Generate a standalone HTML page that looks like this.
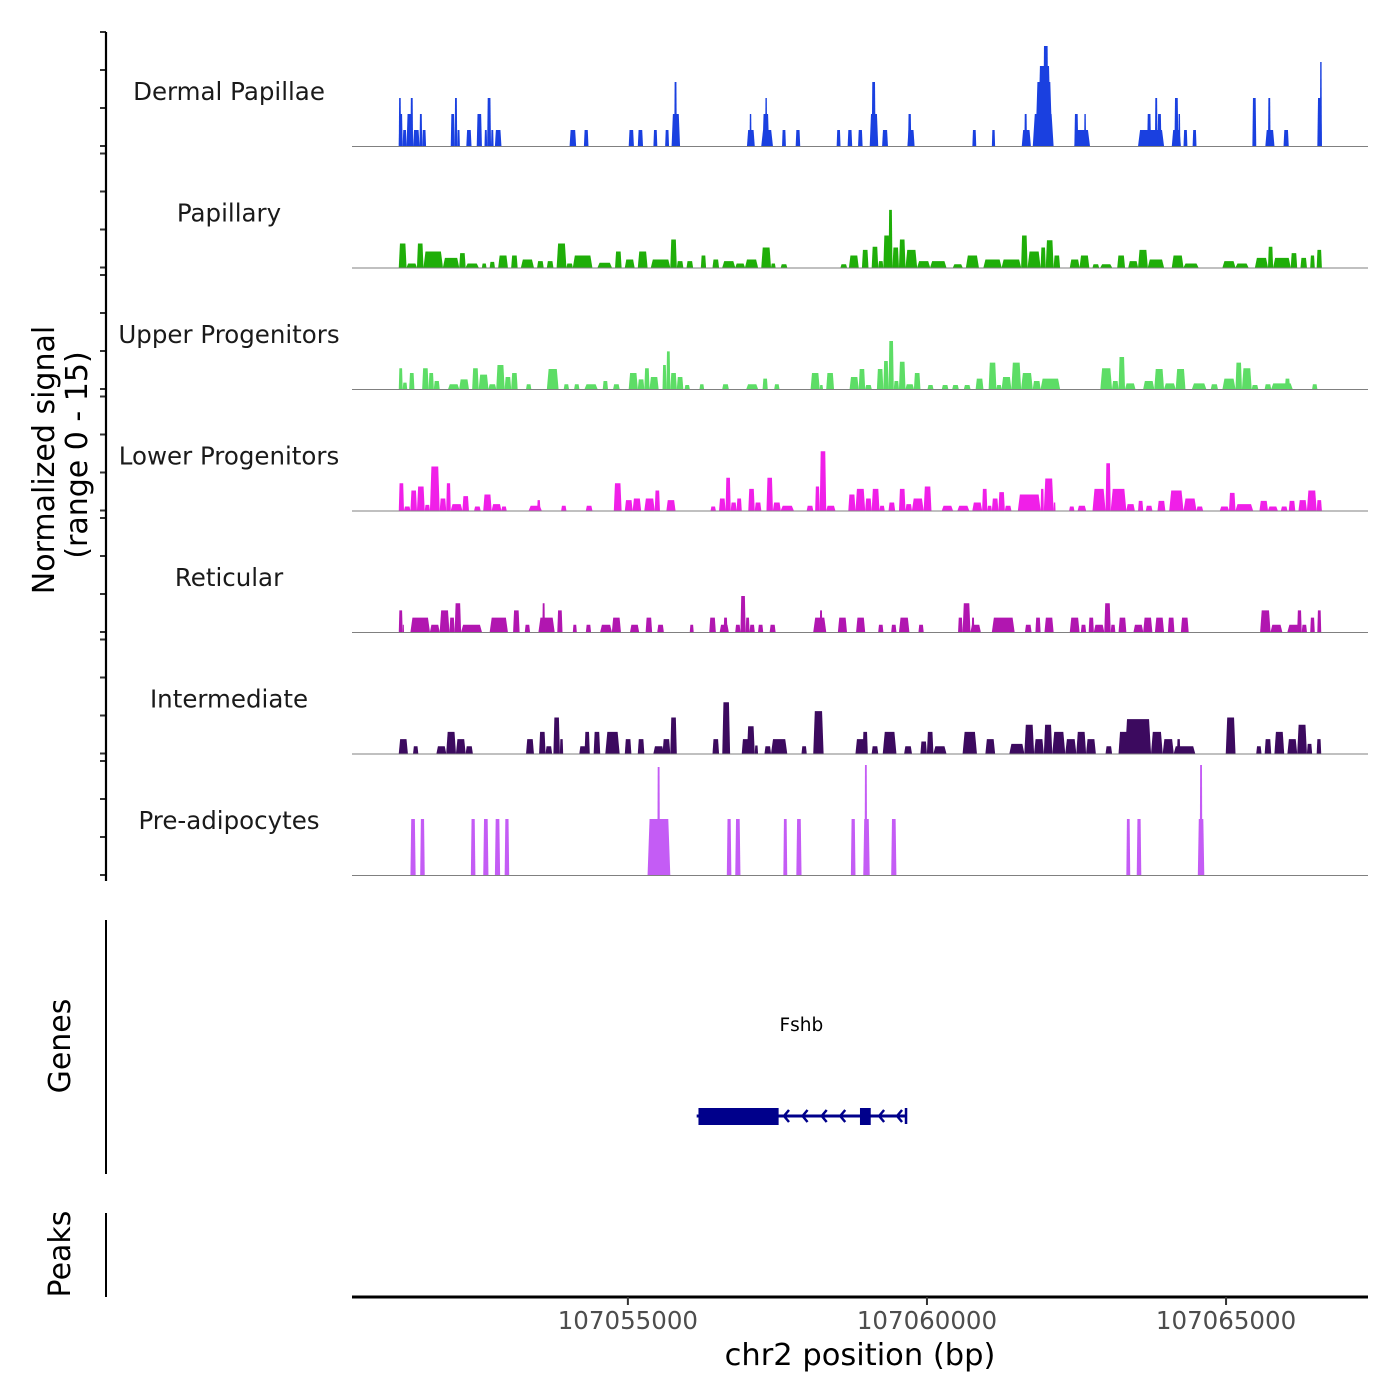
<!DOCTYPE html>
<html>
<head>
<meta charset="utf-8">
<style>
html,body{margin:0;padding:0;background:#fff;}
svg{display:block;font-family:"DejaVu Sans","Liberation Sans",sans-serif;}
</style>
</head>
<body>
<svg id="chart" width="1400" height="1400" viewBox="0 0 1400 1400" xmlns="http://www.w3.org/2000/svg">
<g id="tracks"></g>
<g id="axes"></g>
<g id="genes"></g>
</svg>
<script>
// region (genomic coordinates, bp); signal segments are [startOffsetBp, endOffsetBp, value]
const regionStart = 107050388;
const regionEnd = 107067373;
const xTicks = [107055000, 107060000, 107065000];
const xTickLabels = ["107055000", "107060000", "107065000"];
const trackNames = ["Dermal Papillae","Papillary","Upper Progenitors","Lower Progenitors","Reticular","Intermediate","Pre-adipocytes"];
const trackColors = ["#1a40e0","#1fae09","#5ddd66","#f01fe8","#b116b0","#3c0a5f","#c45cf5"];
const yTickValues = [0,5,10,15];

const dermalPapillae = [[782,847,4],[782,820,6],[847,912,2],[912,1021,4],[977,1021,6],[1021,1129,2],[1129,1173,4],[1173,1238,2],[1651,1716,4],[1716,1759,6],[1759,1803,2],[1911,1998,2],[2085,2172,4],[2215,2259,2],[2259,2324,6],[2324,2367,2],[2389,2498,2],[3638,3747,2],[3877,3953,2],[4626,4713,2],[4778,4865,2],[5039,5104,2],[5235,5300,2],[5343,5484,4],[5387,5430,8],[6603,6733,2],[6646,6679,4],[6842,7037,2],[6864,6972,4],[6907,6940,6],[7189,7254,2],[7417,7493,2],[8102,8167,2],[8286,8362,2],[8460,8536,2],[8655,8797,4],[8688,8753,8],[8862,8960,2],[9285,9405,2],[9296,9350,4],[10371,10436,2],[10697,10751,2],[11197,11349,2],[11240,11284,4],[11381,11729,4],[11425,11707,8],[11468,11685,10],[11555,11642,12.5],[12076,12337,2],[12076,12141,4],[12239,12272,4],[13141,13575,2],[13293,13358,4],[13423,13466,6],[13466,13532,4],[13705,13857,2],[13749,13814,6],[13814,13847,4],[13901,13966,2],[14053,14118,2],[15052,15117,6],[15269,15421,2],[15313,15356,6],[15573,15660,2],[16138,16214,6],[16181,16214,10.5]];
const papillary = [[782,912,3],[912,1086,0.5],[1086,1195,3],[1195,1520,2],[1520,1792,1.2],[1792,1900,1.8],[1900,2118,0.5],[2172,2248,0.5],[2302,2389,0.7],[2444,2606,1.5],[2661,2769,1.5],[2824,3041,1],[3095,3204,0.8],[3258,3367,0.8],[3421,3584,3],[3584,3692,0.5],[3692,4018,1.5],[4105,4344,0.6],[4398,4507,2],[4561,4724,1],[4778,4941,2],[4996,5321,1],[5321,5430,3.5],[5430,5539,0.8],[5593,5702,0.8],[5832,5919,1.5],[6027,6136,1],[6190,6407,0.8],[6407,6570,0.5],[6570,6788,1],[6842,7005,2.5],[7005,7081,0.5],[7168,7276,0.4],[8167,8275,0.4],[8308,8471,1.5],[8525,8634,2.2],[8688,8797,2.6],[8797,8883,0.8],[8883,8992,4],[8970,9035,7.2],[9035,9144,2.5],[9144,9253,3.5],[9253,9448,2.2],[9448,9665,0.8],[9665,9937,0.8],[10046,10208,0.4],[10263,10480,1.5],[10556,10860,1],[10860,11186,1],[11186,11294,4],[11294,11512,2],[11512,11598,2.5],[11598,11729,3.4],[11729,11837,1.5],[12000,12163,1],[12163,12326,1.5],[12380,12489,0.4],[12511,12706,0.4],[12793,12923,1.5],[12978,13141,0.8],[13141,13304,2.2],[13304,13575,1],[13705,13901,1.5],[13901,14151,0.5],[14552,14770,0.8],[14770,14987,0.5],[15095,15313,1.2],[15313,15399,2.6],[15399,15693,1.2],[15693,15801,1.8],[15856,15964,1.2],[16019,16095,1.5],[16127,16214,2.2]];
const upperProgenitors = [[782,847,2.6],[847,923,0.8],[956,1043,2],[1173,1281,2.6],[1281,1368,2],[1368,1466,1],[1607,1792,0.6],[1792,1955,1.2],[2009,2118,2.6],[2118,2281,1.8],[2281,2411,0.6],[2411,2552,3],[2552,2661,1.5],[2661,2769,2],[2910,2997,0.6],[3258,3453,2.5],[3540,3627,0.6],[3714,3801,0.6],[3888,4105,0.6],[4192,4279,1],[4366,4474,0.6],[4626,4778,2],[4778,4887,1.2],[4887,4974,2.6],[4974,5126,1.5],[5191,5256,3],[5256,5321,4.7],[5321,5430,2],[5430,5539,1.5],[5560,5647,0.5],[5810,5886,0.6],[6190,6299,0.6],[6592,6788,0.6],[6864,6950,1.3],[7059,7146,0.6],[7667,7819,2],[7819,7874,0.5],[7928,8058,2],[8319,8471,1.5],[8471,8579,2.5],[8579,8688,0.5],[8775,8883,2.5],[8883,8970,3.5],[8970,9057,6],[9057,9144,1],[9144,9253,3.4],[9253,9394,0.6],[9394,9503,2],[9622,9720,0.5],[9861,9969,0.5],[10035,10143,0.5],[10230,10339,0.5],[10426,10556,1.3],[10643,10773,3.3],[10773,10860,0.5],[10860,11023,1.5],[11023,11186,3.3],[11186,11381,2],[11381,11512,1],[11512,11837,1.3],[12511,12706,2.6],[12706,12815,1],[12815,12923,4],[12923,13097,0.7],[13227,13412,1],[13412,13575,2.5],[13575,13770,0.7],[13770,13933,2.5],[14042,14281,0.7],[14357,14476,0.6],[14552,14770,1.3],[14770,14878,3.3],[14878,15041,2.6],[15041,15150,0.5],[15258,15367,0.6],[15367,15725,0.7],[15595,15682,1.3],[16051,16138,0.6]];
const lowerProgenitors = [[782,869,3.4],[869,977,0.5],[977,1086,2.5],[1086,1216,3],[1216,1303,0.7],[1303,1466,5.5],[1466,1575,1.5],[1575,1651,3.4],[1651,1846,0.8],[1846,1955,1.8],[2042,2150,0.5],[2194,2335,2],[2335,2498,0.8],[2498,2585,0.5],[2954,3171,0.6],[3095,3149,1.3],[3497,3584,0.6],[3910,4018,0.6],[4377,4507,3.4],[4561,4692,1.3],[4692,4833,1.5],[4887,5061,1.5],[5061,5148,2.5],[5256,5408,1.3],[5995,6082,0.5],[6136,6245,1.5],[6245,6331,4.1],[6331,6429,1],[6429,6516,1.5],[6625,6733,2.7],[6733,6842,1],[6929,7037,4.1],[7037,7168,1],[7168,7385,0.6],[7602,7711,0.6],[7743,7819,3],[7819,7928,7.4],[7928,8080,0.6],[8297,8417,2],[8417,8579,2.7],[8579,8688,1.5],[8688,8818,2.7],[8818,8905,0.6],[8970,9079,1],[9144,9253,2.7],[9253,9361,0.8],[9361,9557,1.5],[9557,9687,3],[9861,10046,0.6],[10122,10317,0.6],[10371,10534,1],[10534,10621,2.7],[10621,10697,0.6],[10697,10806,1.5],[10806,10914,2.3],[10914,11023,0.6],[11132,11512,2],[11512,11566,2.7],[11566,11729,4],[11729,11761,1],[11989,12076,0.5],[12131,12272,0.6],[12380,12598,2.7],[12598,12684,5.9],[12684,12945,2.7],[12945,13086,0.8],[13141,13227,1.2],[13271,13380,0.6],[13466,13597,1.2],[13662,13901,2.5],[13901,14118,1.5],[14118,14227,0.5],[14509,14661,0.5],[14661,14770,2.2],[14770,15063,0.8],[15171,15313,1.2],[15313,15476,0.5],[15530,15638,0.5],[15660,15769,1.2],[15823,15964,1.3],[15964,16127,2.5],[16127,16214,1.3]];
const reticular = [[782,847,2.7],[847,869,0.9],[977,1303,1.8],[1303,1466,0.9],[1466,1629,2.7],[1629,1716,1.8],[1716,1824,3.6],[1824,2172,0.9],[2302,2606,1.8],[2693,2802,2.7],[2889,2976,0.9],[3117,3388,1.8],[3182,3225,3.6],[3432,3519,2.7],[3692,3758,0.9],[3910,3996,0.9],[4149,4344,0.9],[4344,4496,1.8],[4648,4800,0.9],[4909,5017,1.8],[5104,5213,0.9],[5647,5712,0.9],[5973,6082,1.8],[6147,6299,0.9],[6212,6277,1.8],[6407,6494,0.9],[6494,6581,4.5],[6581,6646,1.8],[6646,6733,0.9],[6788,6874,0.9],[6983,7081,0.9],[7711,7928,1.8],[7819,7863,2.7],[8123,8275,1.8],[8427,8579,1.8],[8797,8883,0.9],[9014,9101,0.9],[9144,9318,1.8],[9470,9557,0.9],[10132,10208,1.8],[10208,10339,3.6],[10339,10512,0.9],[10360,10404,1.8],[10697,11077,1.8],[11251,11360,0.9],[11425,11512,1.8],[11577,11729,1.8],[12000,12163,1.8],[12185,12272,0.9],[12315,12402,1.8],[12402,12576,0.9],[12576,12684,3.6],[12684,12761,0.9],[12815,12945,1.8],[13065,13227,0.9],[13227,13380,1.8],[13423,13575,1.8],[13640,13749,1.8],[13857,13987,1.8],[15182,15356,2.7],[15356,15552,0.9],[15638,15856,0.9],[15801,15877,2.7],[15877,15964,0.9],[16019,16095,1.8],[16138,16203,2.7]];
const intermediate = [[782,934,1.8],[1021,1108,0.9],[1412,1575,0.9],[1575,1738,2.7],[1738,1900,1.8],[1900,2020,0.9],[2910,3041,1.8],[3128,3236,2.7],[3236,3345,0.9],[3367,3475,4.5],[3475,3530,1.8],[3801,3910,0.9],[3888,3975,2.7],[4040,4149,2.7],[4235,4474,2.7],[4561,4670,1.8],[4778,4887,1.8],[5039,5213,0.9],[5191,5321,1.8],[5321,5430,4.5],[6027,6136,1.8],[6190,6321,6.4],[6516,6646,1.8],[6603,6733,3.4],[6733,6788,1],[6896,7005,0.9],[7005,7276,1.8],[7515,7602,0.9],[7711,7884,5.3],[8417,8579,1.8],[8536,8623,2.7],[8688,8797,0.9],[8873,9101,2.7],[9231,9361,0.9],[9503,9611,1.5],[9611,9720,2.7],[9720,9937,0.9],[10208,10447,2.7],[10589,10751,1.8],[10990,11240,1.2],[11240,11403,3.6],[11403,11566,1.8],[11566,11707,3.6],[11707,11924,2.7],[11924,12109,1.8],[12109,12272,2.7],[12272,12435,1.8],[12598,12706,0.9],[12815,12978,2.7],[12923,13358,4.3],[13358,13553,2.7],[13553,13738,1.8],[13738,14096,0.9],[13792,13847,1.8],[14607,14770,4.5],[15117,15204,0.9],[15258,15367,1.8],[15421,15584,2.7],[15638,15801,1.8],[15801,15964,3.6],[15964,16051,1.2],[16127,16203,1.8]];
const preAdipocytes = [[977,1064,7],[1140,1216,7],[1987,2063,7],[2194,2281,7],[2389,2476,7],[2552,2628,7],[4941,5321,7],[5104,5148,13.5],[6266,6342,7],[6407,6494,7],[7211,7276,7],[7428,7515,7],[8340,8417,7],[8547,8655,7],[8569,8612,13.75],[9014,9101,7],[12945,13010,7],[13119,13195,7],[14140,14248,7],[14172,14216,13.75]];
const trackData = [dermalPapillae, papillary, upperProgenitors, lowerProgenitors, reticular, intermediate, preAdipocytes];

// gene model (genomic coordinates)
const geneName = "Fshb";
const geneStart = 107056150;
const geneEnd = 107059650;
const exons = [[107056180,107057520],[107058880,107059060]];
const strandArrows = [107057610,107057920,107058240,107058550,107059200,107059500];

const NS = "http://www.w3.org/2000/svg";
const X0 = 352, X1 = 1368;
function xScale(bp){ return X0 + (bp - regionStart) / (regionEnd - regionStart) * (X1 - X0); }
const firstBase = 146, trackStep = 121.5, unitPx = 8, tickUnitPx = 7.6;
function yScale(v, base){ return base - v * unitPx; }
function mk(tag, attrs, parent){ const e = document.createElementNS(NS, tag); for (const k in attrs) e.setAttribute(k, attrs[k]); parent.appendChild(e); return e; }

const tracks = document.getElementById('tracks');
const axes = document.getElementById('axes');
const genes = document.getElementById('genes');

trackData.forEach((segs, ti) => {
  const base = firstBase + ti * trackStep;
  const g = mk('g', {}, tracks);
  
  
  const lbl = mk('text', {x:229, y:base-46, 'text-anchor':'middle', 'font-size':24.5, fill:'#1a1a1a'}, g);
  lbl.textContent = trackNames[ti];
  
  
  segs.forEach(s => {
    const xa = xScale(regionStart + s[0]), xb = xScale(regionStart + s[1]);
    const w = xb - xa, d = Math.min(w * 0.15, 2);
    const yt = yScale(s[2], base);
    const p = mk('polygon', {points: `${xa},${base} ${xa+d},${yt} ${xb-d},${yt} ${xb},${base}`, fill: trackColors[ti]}, g);
    
    
  });
  const bl = mk('line', {x1:X0, x2:X1, y1:base+0.5, y2:base+0.5, stroke:'#808080', 'stroke-width':1}, g);
  
  
  yTickValues.forEach(v => {
    const y = base - v * tickUnitPx;
    const t = mk('line', {x1:100, x2:106, y1:y, y2:y, stroke:'#333', 'stroke-width':2}, axes);
    
    
  });
});

// left axis lines
let l = mk('line', {x1:106, x2:106, y1:32, y2:881, stroke:'#000', 'stroke-width':2.2}, axes);


l = mk('line', {x1:106, x2:106, y1:920, y2:1174, stroke:'#000', 'stroke-width':2}, axes);


l = mk('line', {x1:106, x2:106, y1:1213, y2:1297, stroke:'#000', 'stroke-width':2}, axes);



let t = mk('text', {x:0, y:0, 'text-anchor':'middle', 'font-size':30, fill:'#000', transform:'translate(54,460) rotate(-90)'}, axes);
t.textContent = 'Normalized signal';


t = mk('text', {x:0, y:0, 'text-anchor':'middle', 'font-size':30, fill:'#000', transform:'translate(87,455) rotate(-90)'}, axes);
t.textContent = '(range 0 - 15)';


t = mk('text', {x:0, y:0, 'text-anchor':'middle', 'font-size':30, fill:'#000', transform:'translate(70,1046) rotate(-90)'}, axes);
t.textContent = 'Genes';


t = mk('text', {x:0, y:0, 'text-anchor':'middle', 'font-size':30, fill:'#000', transform:'translate(70,1254) rotate(-90)'}, axes);
t.textContent = 'Peaks';



// x axis
l = mk('line', {x1:X0, x2:X1, y1:1297, y2:1297, stroke:'#000', 'stroke-width':3}, axes);


xTicks.forEach((v, i) => {
  const x = xScale(v);
  const tk = mk('line', {x1:x, x2:x, y1:1297, y2:1305, stroke:'#333', 'stroke-width':2}, axes);
  
  
  const tl = mk('text', {x:x, y:1329, 'text-anchor':'middle', 'font-size':24.5, fill:'#4d4d4d'}, axes);
  tl.textContent = xTickLabels[i];
  
  
});
t = mk('text', {x:860, y:1365, 'text-anchor':'middle', 'font-size':30.5, fill:'#000'}, axes);
t.textContent = 'chr2 position (bp)';



// gene model
const gy = 1116;
t = mk('text', {x:(xScale(geneStart)+xScale(geneEnd))/2, y:1031, 'text-anchor':'middle', 'font-size':18.5, fill:'#000'}, genes);
t.textContent = geneName;


l = mk('line', {x1:xScale(geneStart), x2:xScale(geneEnd), y1:gy, y2:gy, stroke:'#00008b', 'stroke-width':3}, genes);


exons.forEach(e => {
  const r = mk('rect', {x:xScale(e[0]), y:gy-8, width:xScale(e[1])-xScale(e[0]), height:17, fill:'#00008b'}, genes);
  
  
});
strandArrows.forEach(a => {
  const x = xScale(a);
  const p = mk('polyline', {points:`${x+5},${gy-6} ${x},${gy} ${x+5},${gy+6}`, fill:'none', stroke:'#00008b', 'stroke-width':2.5}, genes);
  
  
});
l = mk('line', {x1:xScale(geneEnd), x2:xScale(geneEnd), y1:gy-8, y2:gy+8, stroke:'#00008b', 'stroke-width':2.5}, genes);


</script>
</body>
</html>
